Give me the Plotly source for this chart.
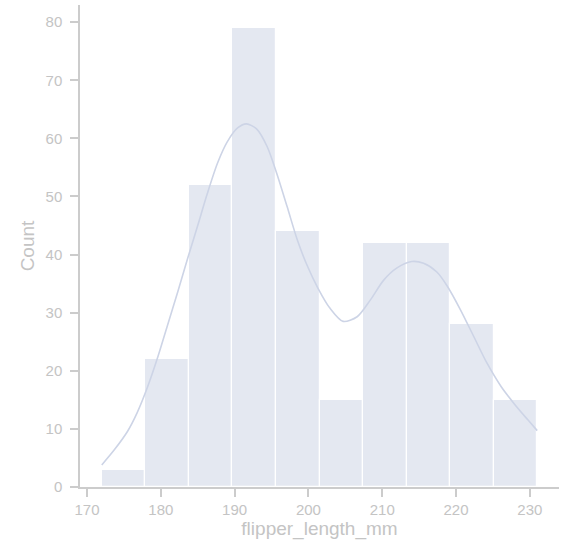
import plotly.graph_objects as go

# Histogram of flipper lengths: 10 equal bins from 172 to 231 mm
bin_start = 172.0
bin_end = 231.0
counts = [3, 22, 52, 79, 44, 15, 42, 42, 28, 15]

# Kernel density estimate, scaled to counts, sampled along the data range
kde_x = [172.0, 173.7, 175.5, 176.8, 178.2, 179.6, 180.9, 182.3, 183.6, 185.0,
         186.3, 187.7, 189.0, 190.4, 191.6, 193.0, 194.4, 195.7, 197.1, 198.5,
         199.8, 201.3, 202.9, 204.7, 206.6, 208.4, 210.2, 212.0, 214.0, 215.6,
         217.4, 218.8, 220.6, 222.4, 224.2, 226.1, 227.9, 229.7, 231.0]
kde_y = [3.8, 6.4, 9.6, 12.8, 17.2, 22.4, 27.8, 33.6, 39.2, 45.0,
         50.5, 55.8, 59.4, 61.8, 62.5, 61.6, 58.6, 54.0, 48.3, 42.5,
         38.2, 34.2, 30.8, 28.5, 29.3, 32.2, 35.6, 37.7, 38.8, 38.5,
         37.0, 34.6, 30.5, 25.9, 21.3, 17.3, 14.3, 11.6, 9.7]

n_bins = len(counts)
width = (bin_end - bin_start) / n_bins
centers = [bin_start + width * (i + 0.5) for i in range(n_bins)]

bar_color = "#e4e8f1"
line_color = "#cdd4e6"
axis_color = "#cccccc"
text_color = "#c4c4c4"
font_family = "Liberation Sans, Arial, sans-serif"

fig = go.Figure()
fig.add_trace(go.Bar(
    x=centers, y=counts, width=width,
    marker=dict(color=bar_color, line=dict(color="white", width=1.2)),
    hoverinfo="x+y", showlegend=False,
))
fig.add_trace(go.Scatter(
    x=kde_x, y=kde_y, mode="lines", line_shape="spline",
    line=dict(color=line_color, width=1.6, smoothing=0.8), showlegend=False,
))

pad = (bin_end - bin_start) * 0.05
fig.update_layout(
    width=562, height=545,
    margin=dict(l=80, r=3, t=5, b=58),
    paper_bgcolor="white", plot_bgcolor="white",
    font=dict(family=font_family, color=text_color, size=15),
    bargap=0,
)
fig.update_xaxes(
    range=[bin_start - pad, bin_end + pad],
    tickvals=[170, 180, 190, 200, 210, 220, 230],
    showgrid=False, zeroline=False,
    showline=True, linecolor=axis_color, linewidth=1.5,
    ticks="outside", ticklen=8, tickwidth=1.5, tickcolor=axis_color,
    tickfont=dict(size=15, color=text_color),
    title=dict(text="flipper_length_mm", font=dict(size=19, color=text_color), standoff=4),
)
fig.update_yaxes(
    range=[0, max(counts) * 1.05],
    tickvals=[0, 10, 20, 30, 40, 50, 60, 70, 80],
    showgrid=False, zeroline=False,
    showline=True, linecolor=axis_color, linewidth=1.5,
    ticks="outside", ticklen=8, tickwidth=1.5, tickcolor=axis_color,
    ticklabelstandoff=5,
    tickfont=dict(size=15, color=text_color),
    title=dict(text="Count", font=dict(size=19, color=text_color), standoff=6),
)

fig.write_html("out.html")
